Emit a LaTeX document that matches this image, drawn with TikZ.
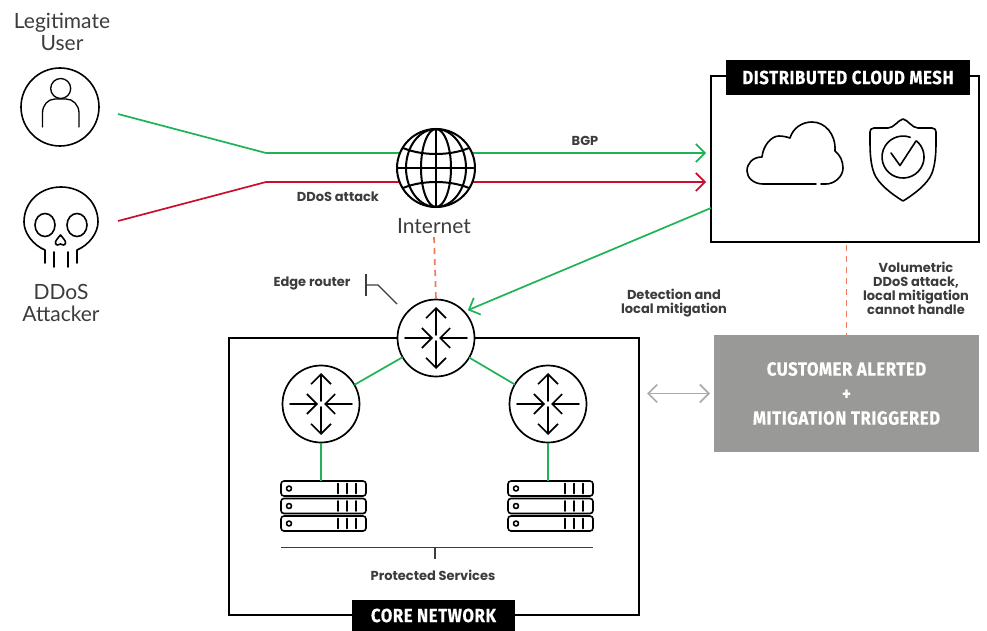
\documentclass[tikz,border=0pt]{standalone}
\usepackage{fontspec}
\setmainfont{Lato}
\newfontfamily\tagfont{Poppins}
\newfontfamily\headfont[FakeStretch=0.88,LetterSpace=3,FakeBold=0.4]{Fira Sans}
\usetikzlibrary{arrows.meta}

\definecolor{linkgreen}{HTML}{1DB356}
\definecolor{linkred}{HTML}{C8102E}
\definecolor{dashorange}{HTML}{EE7B5E}
\definecolor{alertgray}{HTML}{999997}
\definecolor{arrowgray}{HTML}{ABABAB}
\definecolor{tagtext}{HTML}{3C3C3C}

\tikzset{
  icon/.style={line width=1.6pt, line cap=round, line join=round},
  globeline/.style={line width=2pt, line cap=round},
  greenlink/.style={linkgreen, line width=1.7pt},
  redlink/.style={linkred, line width=1.7pt},
  barb/.style={-{Straight Barb[length=9pt,width=18pt]}},
  dashlink/.style={dashorange, line width=1.7pt, dash pattern=on 6pt off 5pt},
  roundnode/.style={circle, draw, line width=1.7pt, fill=white, minimum size=77pt, inner sep=0pt, outer sep=0pt},
  bigtext/.style={text=tagtext, font=\fontsize{21}{22}\selectfont, align=center},
  tag/.style={text=tagtext, font=\tagfont\bfseries\fontsize{13}{14}\selectfont, align=center},
  headtag/.style={fill=black, text=white, inner sep=0pt, outer sep=0pt, font=\headfont\bfseries\fontsize{19}{22}\selectfont},
  framebox/.style={draw, line width=1.8pt, inner sep=0pt, outer sep=0pt},
  routerglyph/.pic={
    \foreach \a in {0,180} \draw[icon,-{Straight Barb[length=10pt,width=20pt]}] (\a:31) -- (\a:3);
    \foreach \a in {90,270} \draw[icon,-{Straight Barb[length=10pt,width=20pt]}] (\a:3) -- (\a:31);
  },
  serverstack/.pic={
    \foreach \y in {0,17.5,35} {
      \draw[icon, rounded corners=3pt] (0,\y) rectangle (85,\y+15);
      \draw[icon] (8,\y+7.5) circle (2.5);
      \foreach \x in {57,66,75} \draw[icon] (\x,\y+2.5) -- (\x,\y+12.5);
    }
  }
}

\begin{document}
\begin{tikzpicture}[x=1pt,y=-1pt]
  \useasboundingbox (0,0) rectangle (987,631);

  % boxes
  \node[framebox, minimum width=268pt, minimum height=166pt] (mesh) at (845,159) {};
  \node[framebox, minimum width=410pt, minimum height=277pt] (core) at (434,476.5) {};
  \node[fill=alertgray, minimum width=265pt, minimum height=117pt, inner sep=0pt, outer sep=0pt] (alert) at (846.5,393.5) {};
  \node[headtag, minimum width=244pt, minimum height=35pt] (meshtag) at (848,77.5) {DISTRIBUTED CLOUD MESH};
  \node[headtag, minimum width=163pt, minimum height=32pt] (coretag) at (433.5,615.5) {CORE NETWORK};

  % green and red links run behind the globe
  \coordinate (userport) at (118,114);
  \coordinate (userbend) at (266,153);
  \coordinate (attackport) at (118,221);
  \coordinate (attackbend) at (266,182);
  \coordinate (meshport) at (711,208);
  \draw[greenlink, barb, shorten >=5pt] (userport) -- (userbend) -- (mesh.west |- userbend);
  \draw[redlink, barb, shorten >=5pt] (attackport) -- (attackbend) -- (mesh.west |- attackbend);

  % users
  \node[circle, draw, icon, minimum size=78pt, inner sep=0pt] (user) at (60,107) {};
  \draw[icon, line width=1.3pt] (60.7,88.5) circle (10);
  \draw[icon, line width=1.3pt] (42.5,127) -- (42.5,113) .. controls (42.5,105) and (48,99) .. (55,99) -- (66,99) .. controls (73,99) and (79,105) .. (79,113) -- (79,127);
  \node[bigtext] (usertext) at (62,32) {Legitimate\\User};

  % skull
  \draw[icon] (45,263) -- (45,250) .. controls (33,245) and (24,233) .. (24,222) .. controls (24,202) and (40,187) .. (61,187)
    .. controls (82,187) and (98,202) .. (98,222) .. controls (98,233) and (89,245) .. (77,250) -- (77,263);
  \draw[icon] (45,225) ellipse (10 and 11.5);
  \draw[icon] (77,225) ellipse (10 and 11.5);
  \draw[icon] (60.5,235) .. controls (58,238) and (55,241) .. (55.5,243) .. controls (56,246) and (59,245) .. (60.5,244)
    .. controls (62,245) and (65,246) .. (65.5,243) .. controls (66,241) and (63,238) .. (60.5,235) -- cycle;
  \draw[icon] (54,252) -- (54,267);
  \draw[icon] (68,252) -- (68,267);
  \node[bigtext] (attacktext) at (61,303) {DDoS\\Attacker};

  % globe
  \node[roundnode, line width=2pt, minimum size=78pt] (net) at (436,168) {};
  \draw[globeline] (436,129) -- (436,207);
  \draw[globeline] (436,168) ellipse (15 and 39);
  \draw[globeline] (436,168) ellipse (30 and 39);
  \draw[globeline] (397,168) -- (475,168);
  \draw[globeline] (403,148) .. controls (422,156) and (450,156) .. (469,148);
  \draw[globeline] (403,188) .. controls (422,180) and (450,180) .. (469,188);
  \node[bigtext] (nettext) at (434,226) {Internet};

  % routers
  \node[roundnode] (edge) at (436,338) {};
  \node[roundnode] (routerl) at (321,404) {};
  \node[roundnode] (routerr) at (548,404) {};
  \draw[greenlink] (edge) -- (routerl);
  \draw[greenlink] (edge) -- (routerr);
  \pic at (edge) {routerglyph};
  \pic at (routerl) {routerglyph};
  \pic at (routerr) {routerglyph};
  \draw[greenlink, barb, shorten >=4pt] (meshport) -- (edge.43);
  \draw[dashlink] (nettext.south) -- (edge.north);
  \draw[dashlink, shorten <=3pt] (mesh.south -| alert.north) -- (alert.north);

  % servers
  \pic at (281,481) {serverstack};
  \pic at (508,481) {serverstack};
  \coordinate (stackl) at (321,481);
  \coordinate (stackr) at (548,481);
  \draw[greenlink] (routerl) -- (stackl);
  \draw[greenlink] (routerr) -- (stackr);
  \coordinate (braceleft) at (281,547.5);
  \coordinate (braceright) at (593,547.5);
  \coordinate (bracemid) at (435,547.5);
  \coordinate (bracetick) at (435,559);
  \draw[tagtext, line width=1.5pt] (braceleft) -- (braceright);
  \draw[tagtext, line width=1.5pt] (bracemid) -- (bracetick);
  \node[tag] (services) at (433,575) {Protected Services};

  % edge router callout
  \node[tag] (edgetext) at (312,283) {Edge router};
  \draw[tagtext, line width=1.4pt] (366,274) -- (366,296);
  \draw[tagtext, line width=1.4pt] (366,285) -- (378,285) -- (397,304);

  % cloud
  \draw[icon] (816,184) -- (763,184) .. controls (754,184) and (747,178) .. (747,171) .. controls (747,163) and (753,157) .. (762,157)
    .. controls (763,146) and (771,136) .. (779,136) .. controls (783,136) and (787,137) .. (790,138)
    .. controls (793,128) and (802,122) .. (812,122) .. controls (825,122) and (836,134) .. (835,151)
    .. controls (840,155) and (843,161) .. (843,168) .. controls (843,177) and (834,184) .. (826,184) -- (821,184);

  % shield
  \draw[icon] (903,119) .. controls (898,120) and (894,128) .. (888,128) -- (874,128) .. controls (871,128) and (870,130) .. (870,132)
    -- (870,142) .. controls (870,155) and (871,165) .. (874,173) .. controls (878,184) and (893,195) .. (903,201)
    .. controls (913,195) and (928,184) .. (932,173) .. controls (935,165) and (936,155) .. (936,142) -- (936,132)
    .. controls (936,130) and (935,128) .. (932,128) -- (918,128) .. controls (912,128) and (908,120) .. (903,119) -- cycle;
  \draw[icon] (910.2,137.3) arc[start angle=-70, end angle=-410, radius=21];
  \draw[icon] (891,153) -- (900,165.5) -- (916,141);

  % remaining labels and alert text
  \node[tag] (bgptext) at (585,141) {BGP};
  \node[tag] (ddostext) at (338,197) {DDoS attack};
  \node[tag] (detecttext) at (674,303) {Detection and\\local mitigation};
  \node[tag] (volumetext) at (916,288) {Volumetric\\DDoS attack,\\local mitigation\\cannot handle};
  \node[text=white, align=center, font=\headfont\bfseries\fontsize{19}{24.5}\selectfont] (alerttext) at (alert) {CUSTOMER ALERTED\\+\\MITIGATION TRIGGERED};

  \draw[arrowgray, line width=1.7pt, {Straight Barb[length=9pt,width=18pt]}-{Straight Barb[length=9pt,width=18pt]}, shorten <=8pt, shorten >=4pt] (core.east |- alert.west) -- (alert.west);
\end{tikzpicture}
\end{document}
